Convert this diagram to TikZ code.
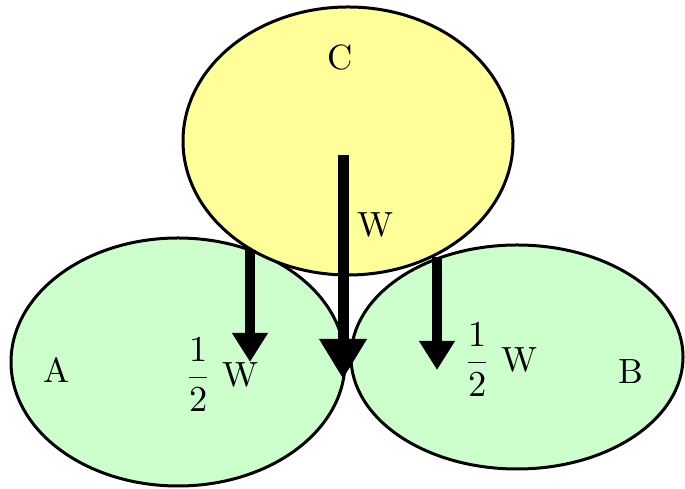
\documentclass[tikz,border=0pt]{standalone}
\usepackage{amsmath}
\usepackage{tikz}
\usetikzlibrary{arrows.meta}
\definecolor{ink}{HTML}{000000}
\definecolor{lemon}{HTML}{FFFF99}
\definecolor{mint}{HTML}{CCFFCC}
\tikzset{ball/.style={draw=ink,line width=.9pt},
  force/.style={draw=ink,line width=3pt,-{Triangle[length=8.7pt,width=10.2pt]}},
  bigforce/.style={draw=ink,line width=3.3pt,-{Triangle[length=12pt,width=13.5pt]}},
  lbl/.style={inner sep=0pt,font=\fontsize{10.5}{12}\selectfont}}

\begin{document}
\begin{tikzpicture}[x=.3pt,y=.3pt]
\useasboundingbox (0,0) rectangle (685,489);
\draw[ball,fill=mint] (178,127) ellipse [x radius=167,y radius=124];
\draw[ball,fill=mint] (517,132) ellipse [x radius=166,y radius=112];
\draw[ball,fill=lemon] (348,348) ellipse [x radius=165,y radius=134];
% forces
\coordinate (wtop) at (343,334);
\coordinate (wend) at (343,110);
\coordinate (latop) at (250,239);
\coordinate (laend) at (250,127);
\coordinate (rbtop) at (437,232);
\coordinate (rbend) at (437,119);
\draw[bigforce] (wtop)--(wend);
\draw[force] (latop)--(laend);
\draw[force] (rbtop)--(rbend);
% labels
\node[lbl] (lc) at (340,431) {C};
\node[lbl] (lw) at (375,264) {W};
\node[lbl] (la) at (57,119) {A};
\node[lbl] (lb) at (631,117) {B};
\node[lbl] (lhalfa) at (222,114) {$\dfrac{1}{2}$~W};
\node[lbl] (lhalfb) at (501,129) {$\dfrac{1}{2}$~W};
\end{tikzpicture}
\end{document}
